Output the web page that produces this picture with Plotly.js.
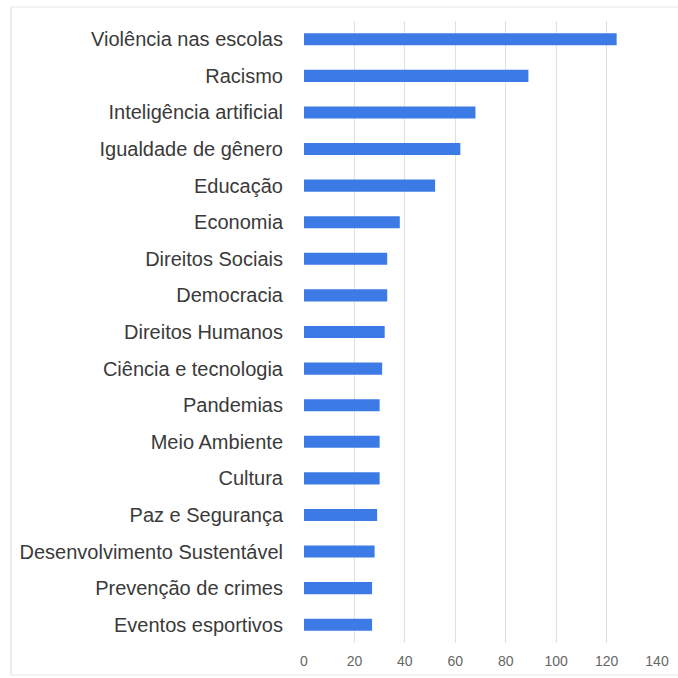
<!DOCTYPE html>
<html>
<head>
<meta charset="utf-8">
<script src="https://cdn.plot.ly/plotly-3.0.1.min.js"></script>
<style>html,body{margin:0;padding:0;background:#fff;}#chart{width:678px;height:678px;}</style>
</head>
<body>
<div id="chart"></div>
<script>
const categories = [
  "Violência nas escolas",
  "Racismo",
  "Inteligência artificial",
  "Igualdade de gênero",
  "Educação",
  "Economia",
  "Direitos Sociais",
  "Democracia",
  "Direitos Humanos",
  "Ciência e tecnologia",
  "Pandemias",
  "Meio Ambiente",
  "Cultura",
  "Paz e Segurança",
  "Desenvolvimento Sustentável",
  "Prevenção de crimes",
  "Eventos esportivos"
];
const values = [124, 89, 68, 62, 52, 38, 33, 33, 32, 31, 30, 30, 30, 29, 28, 27, 27];
const xTicks = [0, 20, 40, 60, 80, 100, 120, 140];

const trace = {
  type: 'bar',
  orientation: 'h',
  y: categories,
  x: values,
  marker: {color: '#3c7be6'},
  hoverinfo: 'x+y'
};

const L = 304, R = 21, T = 21, B = 35, W = 678, H = 678;
const pw = W - L - R, ph = H - T - B;
const px = v => (v - L) / pw;
const py = v => (H - B - v) / ph;
const frameColor = '#e6e6e6';

const layout = {
  width: W,
  height: H,
  margin: {l: L, r: R, t: T, b: B, pad: 0},
  paper_bgcolor: '#ffffff',
  plot_bgcolor: '#ffffff',
  showlegend: false,
  bargap: 0.67,
  font: {family: '"Liberation Sans", Arial, sans-serif'},
  xaxis: {
    range: [0, 140],
    tickvals: xTicks,
    ticktext: xTicks.map(String),
    showgrid: true,
    gridcolor: '#e0e0e0',
    gridwidth: 1,
    zeroline: false,
    showline: false,
    ticks: '',
    ticklabelstandoff: 8,
    tickfont: {size: 14, color: '#666666'},
    fixedrange: true
  },
  yaxis: {
    type: 'category',
    autorange: 'reversed',
    showgrid: false,
    zeroline: false,
    showline: false,
    ticks: '',
    ticklabelstandoff: 20,
    tickfont: {size: 20, color: '#3a3a3a'},
    fixedrange: true
  },
  shapes: [
    {type: 'line', xref: 'paper', yref: 'paper', x0: px(11), x1: px(11), y0: py(7), y1: py(675), line: {color: frameColor, width: 1.5}},
    {type: 'line', xref: 'paper', yref: 'paper', x0: px(11), x1: px(678), y0: py(7), y1: py(7), line: {color: frameColor, width: 1}},
    {type: 'line', xref: 'paper', yref: 'paper', x0: px(11), x1: px(678), y0: py(675), y1: py(675), line: {color: frameColor, width: 1}}
  ]
};

Plotly.newPlot('chart', [trace], layout, {displayModeBar: false, staticPlot: true});
</script>
</body>
</html>
